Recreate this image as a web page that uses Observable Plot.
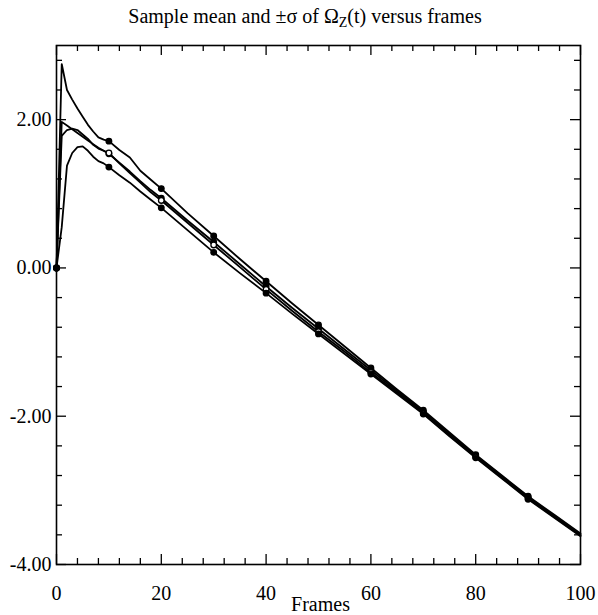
<!DOCTYPE html>
<html><head><meta charset="utf-8">
<script src="https://cdn.jsdelivr.net/npm/d3@7"></script>
<script src="https://cdn.jsdelivr.net/npm/@observablehq/plot@0.6"></script>
<style>
body{margin:0;background:#fff;}
#title{font-family:"Liberation Serif",serif;font-size:20px;height:32px;line-height:20px;padding-top:6px;box-sizing:border-box;text-align:center;padding-left:12px;width:598px;color:#000;}
#title sub{font-size:0.7em;vertical-align:-0.3em;line-height:0;}
#chart svg{display:block;}
</style></head><body>
<div id="title">Sample mean and ±σ of Ω<sub>Z</sub>(t) versus frames</div>
<div id="chart"></div>
<script>
const frames = [0, 1, 2, 3, 4, 5, 6, 7, 8, 9, 10, 12, 14, 16, 18, 20, 25, 30, 35, 40, 45, 50, 55, 60, 65, 70, 75, 80, 85, 90, 95, 100];
// mean + sigma
const upperSigma = [0, 2.75, 2.40, 2.27, 2.15, 2.04, 1.93, 1.84, 1.76, 1.73, 1.71, 1.59, 1.49, 1.31, 1.19, 1.07, 0.74, 0.43, 0.12, -0.18, -0.48, -0.77, -1.06, -1.35, -1.64, -1.92, -2.22, -2.52, -2.80, -3.08, -3.33, -3.58];
// reference (straight) line
const reference = [0, 1.97, 1.92, 1.87, 1.82, 1.77, 1.72, 1.67, 1.62, 1.58, 1.54, 1.42, 1.30, 1.17, 1.05, 0.94, 0.64, 0.35, 0.05, -0.25, -0.54, -0.82, -1.10, -1.38, -1.66, -1.94, -2.24, -2.53, -2.81, -3.09, -3.35, -3.60];
// sample mean
const sampleMean = [0, 1.78, 1.86, 1.88, 1.86, 1.80, 1.74, 1.66, 1.61, 1.58, 1.55, 1.41, 1.28, 1.15, 1.02, 0.91, 0.61, 0.31, 0.01, -0.29, -0.58, -0.86, -1.13, -1.41, -1.68, -1.96, -2.26, -2.55, -2.83, -3.11, -3.36, -3.61];
// mean - sigma
const lowerSigma = [0, 0.55, 1.38, 1.55, 1.63, 1.64, 1.58, 1.50, 1.44, 1.41, 1.36, 1.25, 1.15, 1.03, 0.92, 0.81, 0.51, 0.21, -0.07, -0.34, -0.62, -0.89, -1.16, -1.43, -1.70, -1.97, -2.27, -2.56, -2.84, -3.12, -3.37, -3.62];

const markerFrames = [0, 10, 20, 30, 40, 50, 60, 70, 80, 90];
const xMajorTicks = [0, 20, 40, 60, 80, 100];
const xMinorTicks = [4, 8, 12, 16, 24, 28, 32, 36, 44, 48, 52, 56, 64, 68, 72, 76, 84, 88, 92, 96];
const yMajorTicks = [-4, -2, 0, 2];
const yMinorTicks = [-3.6, -3.2, -2.8, -2.4, -1.6, -1.2, -0.8, -0.4, 0.4, 0.8, 1.2, 1.6, 2.4, 2.8];
const xLabel = "Frames";

const series = [
  {name: "upper", values: upperSigma, hollow: false},
  {name: "reference", values: reference, hollow: false},
  {name: "mean", values: sampleMean, hollow: true},
  {name: "lower", values: lowerSigma, hollow: false}
];
const rows = series.flatMap(s => frames.map((t, i) => ({t, v: s.values[i], s: s.name, hollow: s.hollow})));
const markers = rows.filter(d => markerFrames.includes(d.t));

const W = 598, H = 583, mL = 56, mR = 18, mT = 13, mB = 51;
const xDom = [0, 100], yDom = [-4, 3];
const pxPerX = (W - mL - mR) / (xDom[1] - xDom[0]);
const pxPerY = (H - mT - mB) / (yDom[1] - yDom[0]);
const majorLen = 10, minorLen = 6;
const dyMaj = majorLen / pxPerY, dyMin = minorLen / pxPerY;
const dxMaj = majorLen / pxPerX, dxMin = minorLen / pxPerX;

const serif = "Liberation Serif";
const tickStyle = {stroke: "black", strokeWidth: 1.3};

const chart = Plot.plot({
  width: W, height: H,
  marginLeft: mL, marginRight: mR, marginTop: mT, marginBottom: mB,
  x: {domain: xDom},
  y: {domain: yDom},
  style: {fontFamily: serif, fontSize: "20px", color: "black", background: "white"},
  marks: [
    // inward ticks: bottom & top
    Plot.ruleX(xMajorTicks, {x: d => d, y1: yDom[0], y2: yDom[0] + dyMaj, ...tickStyle}),
    Plot.ruleX(xMinorTicks, {x: d => d, y1: yDom[0], y2: yDom[0] + dyMin, ...tickStyle}),
    Plot.ruleX(xMajorTicks, {x: d => d, y1: yDom[1] - dyMaj, y2: yDom[1], ...tickStyle}),
    Plot.ruleX(xMinorTicks, {x: d => d, y1: yDom[1] - dyMin, y2: yDom[1], ...tickStyle}),
    // inward ticks: left & right
    Plot.ruleY(yMajorTicks, {y: d => d, x1: xDom[0], x2: xDom[0] + dxMaj, ...tickStyle}),
    Plot.ruleY(yMinorTicks, {y: d => d, x1: xDom[0], x2: xDom[0] + dxMin, ...tickStyle}),
    Plot.ruleY(yMajorTicks, {y: d => d, x1: xDom[1] - dxMaj, x2: xDom[1], ...tickStyle}),
    Plot.ruleY(yMinorTicks, {y: d => d, x1: xDom[1] - dxMin, x2: xDom[1], ...tickStyle}),
    Plot.frame({stroke: "black", strokeWidth: 1.6}),
    Plot.line(rows, {x: "t", y: "v", z: "s", stroke: "black", strokeWidth: 1.8, strokeLinejoin: "round"}),
    Plot.dot(markers, {x: "t", y: "v", r: 2.8, fill: d => d.hollow ? "white" : "black", stroke: "black", strokeWidth: 1.3}),
    Plot.axisX({ticks: xMajorTicks, tickSize: 0, tickPadding: 21, fontSize: 20, fontFamily: serif, tickFormat: d => String(d), label: null}),
    Plot.axisY({ticks: yMajorTicks, tickSize: 0, tickPadding: 5, fontSize: 20, fontFamily: serif, tickFormat: d => d.toFixed(2), label: null}),
    Plot.text([xLabel], {text: d => d, frameAnchor: "bottom", dy: 40, dx: 2, lineAnchor: "middle", fontSize: 20, fontFamily: serif})
  ]
});
document.getElementById("chart").appendChild(chart);
</script>
</body></html>
